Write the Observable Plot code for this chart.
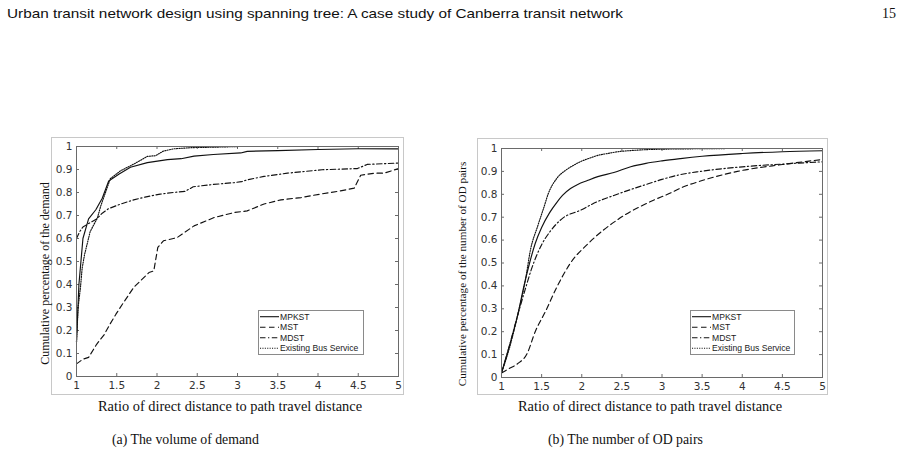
<!DOCTYPE html>
<html><head><meta charset="utf-8">
<script src="https://cdn.jsdelivr.net/npm/d3@7"></script>
<script src="https://cdn.jsdelivr.net/npm/@observablehq/plot@0.6"></script>
<style>
body{margin:0;background:#fff;width:918px;height:464px;position:relative;overflow:hidden;}
.fig{position:absolute;border:1px solid #c8c8c8;box-sizing:border-box;}
.legend{position:absolute;border:1px solid #8a8a8a;background:#fff;box-sizing:border-box;}
</style></head><body>
<script>
// ---------- data ----------
const xTicks = [1, 1.5, 2, 2.5, 3, 3.5, 4, 4.5, 5];
const yTicks = [0, 0.1, 0.2, 0.3, 0.4, 0.5, 0.6, 0.7, 0.8, 0.9, 1];
const seriesNames = ["MPKST", "MST", "MDST", "Existing Bus Service"];

// (a) volume of demand
const demandMPKST_x = [1, 1.03, 1.08, 1.15, 1.24, 1.32, 1.40, 1.53, 1.67, 1.88, 2.13, 2.30, 2.46, 2.70, 3.04, 3.12, 3.50, 4.00, 4.50, 5.00];
const demandMPKST_y = [0.15, 0.40, 0.60, 0.685, 0.725, 0.775, 0.85, 0.88, 0.91, 0.93, 0.943, 0.947, 0.958, 0.965, 0.972, 0.979, 0.982, 0.987, 0.99, 0.99];
const demandMST_x = [1, 1.08, 1.15, 1.25, 1.34, 1.42, 1.49, 1.57, 1.71, 1.90, 1.96, 2.01, 2.08, 2.25, 2.46, 2.71, 2.96, 3.12, 3.33, 3.54, 3.79, 4.03, 4.28, 4.45, 4.53, 4.70, 4.82, 5.00];
const demandMST_y = [0.055, 0.075, 0.083, 0.14, 0.18, 0.23, 0.271, 0.314, 0.387, 0.452, 0.459, 0.561, 0.59, 0.604, 0.655, 0.691, 0.713, 0.72, 0.75, 0.768, 0.778, 0.793, 0.807, 0.819, 0.875, 0.884, 0.884, 0.904];
const demandMDST_x = [1, 1.04, 1.08, 1.15, 1.25, 1.32, 1.40, 1.55, 1.71, 1.85, 2.04, 2.20, 2.35, 2.45, 2.70, 2.96, 3.05, 3.12, 3.33, 3.62, 4.05, 4.49, 4.61, 4.80, 5.00];
const demandMDST_y = [0.60, 0.63, 0.65, 0.665, 0.685, 0.71, 0.73, 0.75, 0.768, 0.78, 0.793, 0.80, 0.805, 0.825, 0.835, 0.843, 0.847, 0.855, 0.87, 0.884, 0.899, 0.904, 0.922, 0.925, 0.928];
const demandBus_x = [1, 1.02, 1.05, 1.07, 1.10, 1.17, 1.26, 1.30, 1.36, 1.42, 1.55, 1.72, 1.88, 1.98, 2.08, 2.21, 2.42, 2.70, 3.04, 4.00, 5.00];
const demandBus_y = [0.15, 0.30, 0.39, 0.47, 0.53, 0.63, 0.69, 0.74, 0.80, 0.86, 0.895, 0.925, 0.957, 0.96, 0.98, 0.99, 0.995, 0.997, 1.0, 1.0, 1.0];

// (b) number of OD pairs
const odMPKST_x = [1, 1.1, 1.2, 1.28, 1.35, 1.42, 1.5, 1.6, 1.69, 1.76, 1.86, 1.95, 2.07, 2.2, 2.4, 2.61, 2.8, 3.0, 3.23, 3.5, 4.0, 4.5, 5.0];
const odMPKST_y = [0.02, 0.14, 0.27, 0.40, 0.50, 0.585, 0.655, 0.72, 0.765, 0.795, 0.825, 0.843, 0.86, 0.877, 0.895, 0.92, 0.935, 0.946, 0.956, 0.966, 0.978, 0.986, 0.99];
const odMST_x = [1, 1.1, 1.2, 1.32, 1.42, 1.55, 1.69, 1.86, 2.08, 2.45, 2.9, 3.07, 3.25, 3.5, 3.94, 4.5, 5.0];
const odMST_y = [0.02, 0.04, 0.06, 0.105, 0.2, 0.29, 0.395, 0.5, 0.585, 0.69, 0.775, 0.80, 0.83, 0.86, 0.9, 0.93, 0.952];
const odMDST_x = [1, 1.1, 1.2, 1.3, 1.37, 1.44, 1.5, 1.6, 1.76, 1.98, 2.19, 2.4, 2.82, 3.0, 3.23, 3.48, 4.0, 4.5, 5.0];
const odMDST_y = [0.02, 0.14, 0.27, 0.39, 0.47, 0.535, 0.58, 0.635, 0.695, 0.73, 0.767, 0.795, 0.845, 0.865, 0.886, 0.9, 0.92, 0.932, 0.942];
const odBus_x = [1, 1.1, 1.2, 1.3, 1.36, 1.45, 1.53, 1.58, 1.69, 1.8, 1.9, 2.0, 2.1, 2.2, 2.32, 2.45, 2.61, 2.8, 3.0, 3.5, 4.0, 5.0];
const odBus_y = [0.02, 0.13, 0.27, 0.43, 0.556, 0.66, 0.745, 0.80, 0.87, 0.905, 0.927, 0.945, 0.958, 0.97, 0.978, 0.986, 0.991, 0.995, 0.997, 0.999, 1.0, 1.0];

const headerText = "Urban transit network design using spanning tree: A case study of Canberra transit network";
const pageNumber = "15";
const xTitle = "Ratio of direct distance to path travel distance";
const yTitleA = "Cumulative percentage of the demand";
const yTitleB = "Cumulative percentage of the number of OD pairs";
const captionA = "(a) The volume of demand";
const captionB = "(b) The number of OD pairs";

// ---------- styles ----------
const dash = {"MPKST": null, "MST": "5.5,3.5", "MDST": "5.5,2.5,1.3,2.5", "Existing Bus Service": "1.1,1.3"};

function rowsOf(pairs) {
  const out = [];
  pairs.forEach(([name, xs, ys]) => xs.forEach((x, i) => out.push({series: name, x, y: ys[i]})));
  return out;
}

function panel(o) {
  const iw = o.width - o.ml - o.mr, ih = o.height - o.mt - o.mb;
  const data = rowsOf(o.series);
  const lines = seriesNames.map(n => Plot.line(data.filter(d => d.series === n), {
    x: "x", y: "y", stroke: "#111", strokeWidth: 1.15, strokeDasharray: dash[n], curve: o.curve
  }));
  const ax = "#6a6a6a";
  const p = Plot.plot({
    width: o.width, height: o.height,
    marginLeft: o.ml, marginRight: o.mr, marginTop: o.mt, marginBottom: o.mb,
    x: {domain: [1, 5]}, y: {domain: [0, 1]},
    style: {background: "transparent", fontFamily: "'DejaVu Sans', sans-serif", fontSize: "10.5px", color: "#333", overflow: "visible"},
    marks: [
      Plot.axisX({ticks: xTicks, tickSize: 0, tickPadding: 5, tickFormat: d => String(d), label: null}),
      Plot.axisY({ticks: yTicks, tickSize: 0, tickPadding: 4, tickFormat: d => String(d), label: null}),
      Plot.tickX(xTicks, {x: d => d, insetBottom: ih - 3, stroke: ax}),
      Plot.tickX(xTicks, {x: d => d, insetTop: ih - 3, stroke: ax}),
      Plot.tickY(yTicks, {y: d => d, insetRight: iw - 3, stroke: ax}),
      Plot.tickY(yTicks, {y: d => d, insetLeft: iw - 3, stroke: ax}),
      ...lines,
      Plot.frame({stroke: ax}),
      Plot.text([o.yTitle], {frameAnchor: "left", text: d => d, rotate: -90, textAnchor: "middle", dx: o.ydx, dy: o.ydy,
        fontFamily: "'Liberation Serif', serif", fontSize: o.yfs, fill: "#111"}),
      Plot.text([xTitle], {frameAnchor: "bottom", text: d => d, textAnchor: "middle", dx: o.xdx, dy: o.xdy,
        fontFamily: "'Liberation Serif', serif", fontSize: 14.4, fill: "#111"})
    ]
  });
  p.style.position = "absolute";
  p.style.left = o.left + "px";
  p.style.top = o.top + "px";
  document.body.appendChild(p);
}

function box(cls, l, t, w, h) {
  const d = document.createElement("div");
  d.className = cls;
  Object.assign(d.style, {left: l + "px", top: t + "px", width: w + "px", height: h + "px"});
  document.body.appendChild(d);
  return d;
}

function legend(l, t, w, h) {
  const d = box("legend", l, t, w, h);
  const ns = "http://www.w3.org/2000/svg";
  const svg = document.createElementNS(ns, "svg");
  svg.setAttribute("width", w - 2); svg.setAttribute("height", h - 2);
  svg.style.display = "block";
  seriesNames.forEach((n, i) => {
    const y = 5.7 + i * 10.5;
    const ln = document.createElementNS(ns, "line");
    ln.setAttribute("x1", 1); ln.setAttribute("x2", 20); ln.setAttribute("y1", y); ln.setAttribute("y2", y);
    ln.setAttribute("stroke", "#111"); ln.setAttribute("stroke-width", 1.1);
    if (dash[n]) ln.setAttribute("stroke-dasharray", dash[n]);
    svg.appendChild(ln);
    const tx = document.createElementNS(ns, "text");
    tx.setAttribute("x", 21); tx.setAttribute("y", y); tx.setAttribute("dy", "0.35em");
    tx.setAttribute("font-family", "'Liberation Sans', sans-serif"); tx.setAttribute("font-size", 8.6);
    tx.setAttribute("fill", "#1a1a1a");
    tx.textContent = n;
    svg.appendChild(tx);
  });
  d.appendChild(svg);
}

// figure image borders
box("fig", 51, 137, 353, 258);
box("fig", 477, 138, 351, 257);

panel({left: 30, top: 135, width: 380, height: 285, ml: 46, mr: 12, mt: 11, mb: 44, curve: "linear",
  series: [["MPKST", demandMPKST_x, demandMPKST_y], ["MST", demandMST_x, demandMST_y], ["MDST", demandMDST_x, demandMDST_y], ["Existing Bus Service", demandBus_x, demandBus_y]],
  yTitle: yTitleA, ydx: -31, ydy: 12, yfs: 12, xdx: -7.5, xdy: 34});
panel({left: 455, top: 135, width: 380, height: 285, ml: 46, mr: 13, mt: 13, mb: 43, curve: "monotone-x",
  series: [["MPKST", odMPKST_x, odMPKST_y], ["MST", odMST_x, odMST_y], ["MDST", odMDST_x, odMDST_y], ["Existing Bus Service", odBus_x, odBus_y]],
  yTitle: yTitleB, ydx: -39, ydy: 11, yfs: 11.2, xdx: -12, xdy: 33});

legend(258, 310, 106, 45);
legend(690, 310, 105, 45);

// page texts
const ns = "http://www.w3.org/2000/svg";
const over = document.createElementNS(ns, "svg");
over.setAttribute("width", 918); over.setAttribute("height", 464);
over.style.position = "absolute"; over.style.left = "0"; over.style.top = "0"; over.style.pointerEvents = "none";
function addText(s, x, y, attrs) {
  const t = document.createElementNS(ns, "text");
  t.setAttribute("x", x); t.setAttribute("y", y);
  for (const k in attrs) t.setAttribute(k, attrs[k]);
  t.textContent = s; over.appendChild(t);
}
addText(headerText, 7, 18, {"font-family": "'Liberation Sans', sans-serif", "font-size": 13, "fill": "#111", "textLength": 616, "lengthAdjust": "spacingAndGlyphs"});
addText(pageNumber, 896, 18, {"font-family": "'Liberation Serif', serif", "font-size": 14, "fill": "#111", "text-anchor": "end"});
addText(captionA, 112, 444, {"font-family": "'Liberation Serif', serif", "font-size": 13.8, "fill": "#111"});
addText(captionB, 548, 444, {"font-family": "'Liberation Serif', serif", "font-size": 13.8, "fill": "#111"});
document.body.appendChild(over);
</script></body></html>
